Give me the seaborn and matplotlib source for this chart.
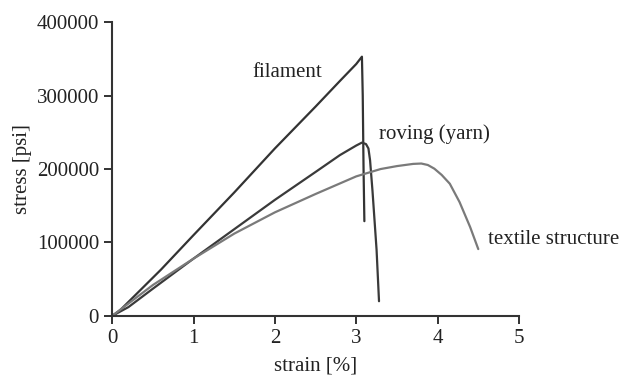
import pandas as pd
import matplotlib.pyplot as plt
import seaborn as sns

# strain [%] and stress [psi]
filament_x = [0, 0.1, 0.3, 0.6, 1.0, 1.5, 2.0, 2.5, 2.8, 3.0, 3.07, 3.08, 3.09, 3.10]
filament_y = [0, 8000, 30000, 63000, 110000, 168000, 228000, 285000, 320000, 343000, 353000, 300000, 200000, 129000]

roving_x = [0, 0.2, 0.5, 1.0, 1.5, 2.0, 2.5, 2.8, 3.0, 3.07, 3.12, 3.15, 3.17, 3.20, 3.25, 3.28]
roving_y = [0, 12000, 37000, 78000, 118000, 158000, 196000, 219000, 232000, 236000, 234000, 228000, 212000, 170000, 90000, 20000]

textile_x = [0, 0.5, 1.0, 1.5, 2.0, 2.5, 3.0, 3.3, 3.5, 3.7, 3.8, 3.88, 3.96, 4.05, 4.15, 4.27, 4.4, 4.5]
textile_y = [0, 42000, 78000, 112000, 141000, 166000, 190000, 200000, 204000, 207000, 207500, 205500, 200500, 192000, 180000, 155000, 121000, 91000]

series = [
    ("filament", filament_x, filament_y, "#333333", (1.72, 332000)),
    ("roving (yarn)", roving_x, roving_y, "#3a3a3a", (3.28, 248000)),
    ("textile structure", textile_x, textile_y, "#7a7a7a", (4.62, 104000)),
]

sns.set_style("ticks")
plt.rcParams['font.family'] = ['Liberation Serif', 'DejaVu Serif']

fig = plt.figure(figsize=(6.23, 3.82), dpi=100)
ax = fig.add_axes([0.18, 0.173, 0.653, 0.769])

for name, xs, ys, color, (lx, ly) in series:
    df = pd.DataFrame({"strain": xs, "stress": ys})
    sns.lineplot(data=df, x="strain", y="stress", sort=False, color=color,
                 linewidth=1.6, ax=ax)
    ax.text(lx, ly, name, fontsize=15, color="#222222", va="center", ha="left",
            clip_on=False)

ax.set_xlim(0, 5)
ax.set_ylim(0, 400000)
ax.set_xticks([0, 1, 2, 3, 4, 5])
ax.set_yticks([0, 100000, 200000, 300000, 400000])
ax.set_xlabel("strain [%]", fontsize=15, color="#222222", labelpad=6)
ax.set_ylabel("stress [psi]", fontsize=15, color="#222222", labelpad=3)
ax.tick_params(labelsize=15, colors="#222222", length=6, width=1.3, direction="out")
for s in ["left", "bottom"]:
    ax.spines[s].set_linewidth(1.5)
    ax.spines[s].set_color("#333333")
sns.despine(ax=ax)

fig.savefig("out.png", dpi=100)
